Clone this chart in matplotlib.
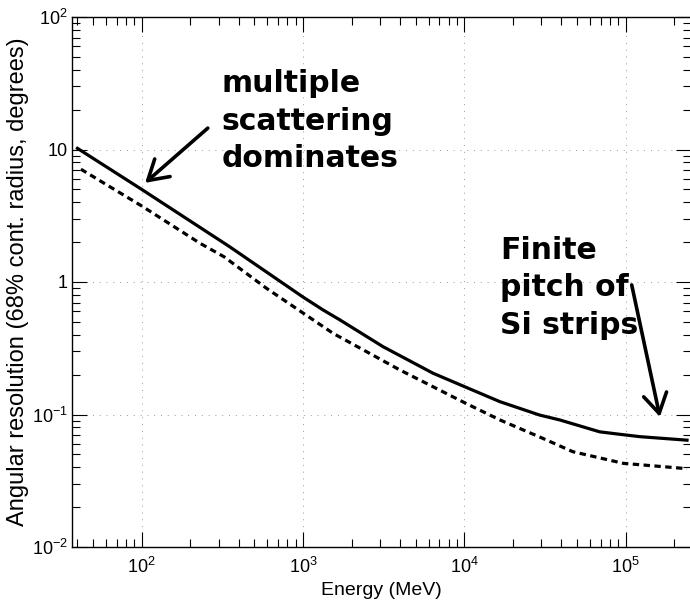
import matplotlib
matplotlib.use("Agg")
import matplotlib.pyplot as plt
from matplotlib.ticker import LogLocator, FixedLocator, FixedFormatter, NullFormatter

plt.rcParams['font.family'] = ['Liberation Sans', 'DejaVu Sans']
plt.rcParams['mathtext.fontset'] = 'custom'
plt.rcParams['mathtext.rm'] = 'Liberation Sans'
plt.rcParams['mathtext.it'] = 'Liberation Sans:italic'
plt.rcParams['mathtext.bf'] = 'Liberation Sans:bold'

# values (energy in MeV, resolution in degrees)
solid_energy = [40, 100, 350, 1000, 1332, 1700, 3133, 6390, 1.03e4, 1.66e4,
                2.93e4, 3.9e4, 6.9e4, 9.1e4, 1.23e5, 2.4e5]
solid_res = [10.2, 5.0, 1.85, 0.77, 0.615, 0.516, 0.325, 0.205, 0.160, 0.125,
             0.099, 0.091, 0.074, 0.071, 0.068, 0.064]

dashed_energy = [42, 100, 230, 324, 594, 1535, 3980, 1.0e4, 1.66e4, 3.07e4,
                 4.7e4, 9.66e4, 2.4e5]
dashed_res = [7.1, 3.75, 1.96, 1.55, 0.896, 0.41, 0.217, 0.123, 0.091, 0.066,
              0.0524, 0.0428, 0.039]

y_ticks = [1e-2, 1e-1, 1, 10, 100]
y_ticklabels = ['$10^{-2}$', '$10^{-1}$', '1', '10', '$10^{2}$']

fig = plt.figure(figsize=(6.9, 6.0), dpi=100)
ax = fig.add_axes([72 / 690, 53 / 600, 619 / 690, 530 / 600])

ax.plot(solid_energy, solid_res, color='k', lw=2.3, solid_joinstyle='round')
ax.plot(dashed_energy, dashed_res, color='k', lw=2.3, dashes=(2.0, 1.4))

ax.set_xscale('log')
ax.set_yscale('log')
ax.set_xlim(37, 2.54e5)
ax.set_ylim(1e-2, 1e2)

ax.xaxis.set_major_locator(LogLocator(base=10, numticks=10))
ax.xaxis.set_minor_locator(LogLocator(base=10, subs=range(2, 10), numticks=20))
ax.xaxis.set_minor_formatter(NullFormatter())
ax.yaxis.set_major_locator(FixedLocator(y_ticks))
ax.yaxis.set_major_formatter(FixedFormatter(y_ticklabels))
ax.yaxis.set_minor_locator(LogLocator(base=10, subs=range(2, 10), numticks=20))
ax.yaxis.set_minor_formatter(NullFormatter())

ax.tick_params(which='both', direction='in', top=True, right=True, width=0.8,
               labelsize=13)
ax.tick_params(which='major', length=11, pad=7)
ax.tick_params(which='minor', length=6)
ax.tick_params(axis='y', which='major', pad=3)

ax.grid(True, which='major', color='0.6', lw=0.7, ls=(0, (1, 6)))

for sp in ax.spines.values():
    sp.set_linewidth(1.0)

ax.set_xlabel('Energy (MeV)', fontsize=14, labelpad=4)
ax.set_ylabel('Angular resolution (68% cont. radius, degrees)', fontsize=17)
ax.yaxis.set_label_coords(-0.069, 0.5)

note_kw = dict(fontsize=21.5, fontweight='bold', family='DejaVu Sans',
               ha='left', va='center', linespacing=1.36)
ax.text(222 / 690, (600 - 121) / 600, 'multiple\nscattering\ndominates',
        transform=fig.transFigure, **note_kw)
ax.text(500 / 690, (600 - 288) / 600, 'Finite\npitch of\nSi strips',
        transform=fig.transFigure, **note_kw)

arrow_kw = dict(arrowstyle='->,head_length=0.7,head_width=0.42', lw=2.6,
                color='k', mutation_scale=20, shrinkA=0, shrinkB=0)
ax.annotate('', xy=(105, 5.6), xytext=(257, 14.5), arrowprops=arrow_kw)
ax.annotate('', xy=(1.63e5, 0.096), xytext=(1.09e5, 0.95), arrowprops=arrow_kw)

fig.savefig('out.png', dpi=100)
